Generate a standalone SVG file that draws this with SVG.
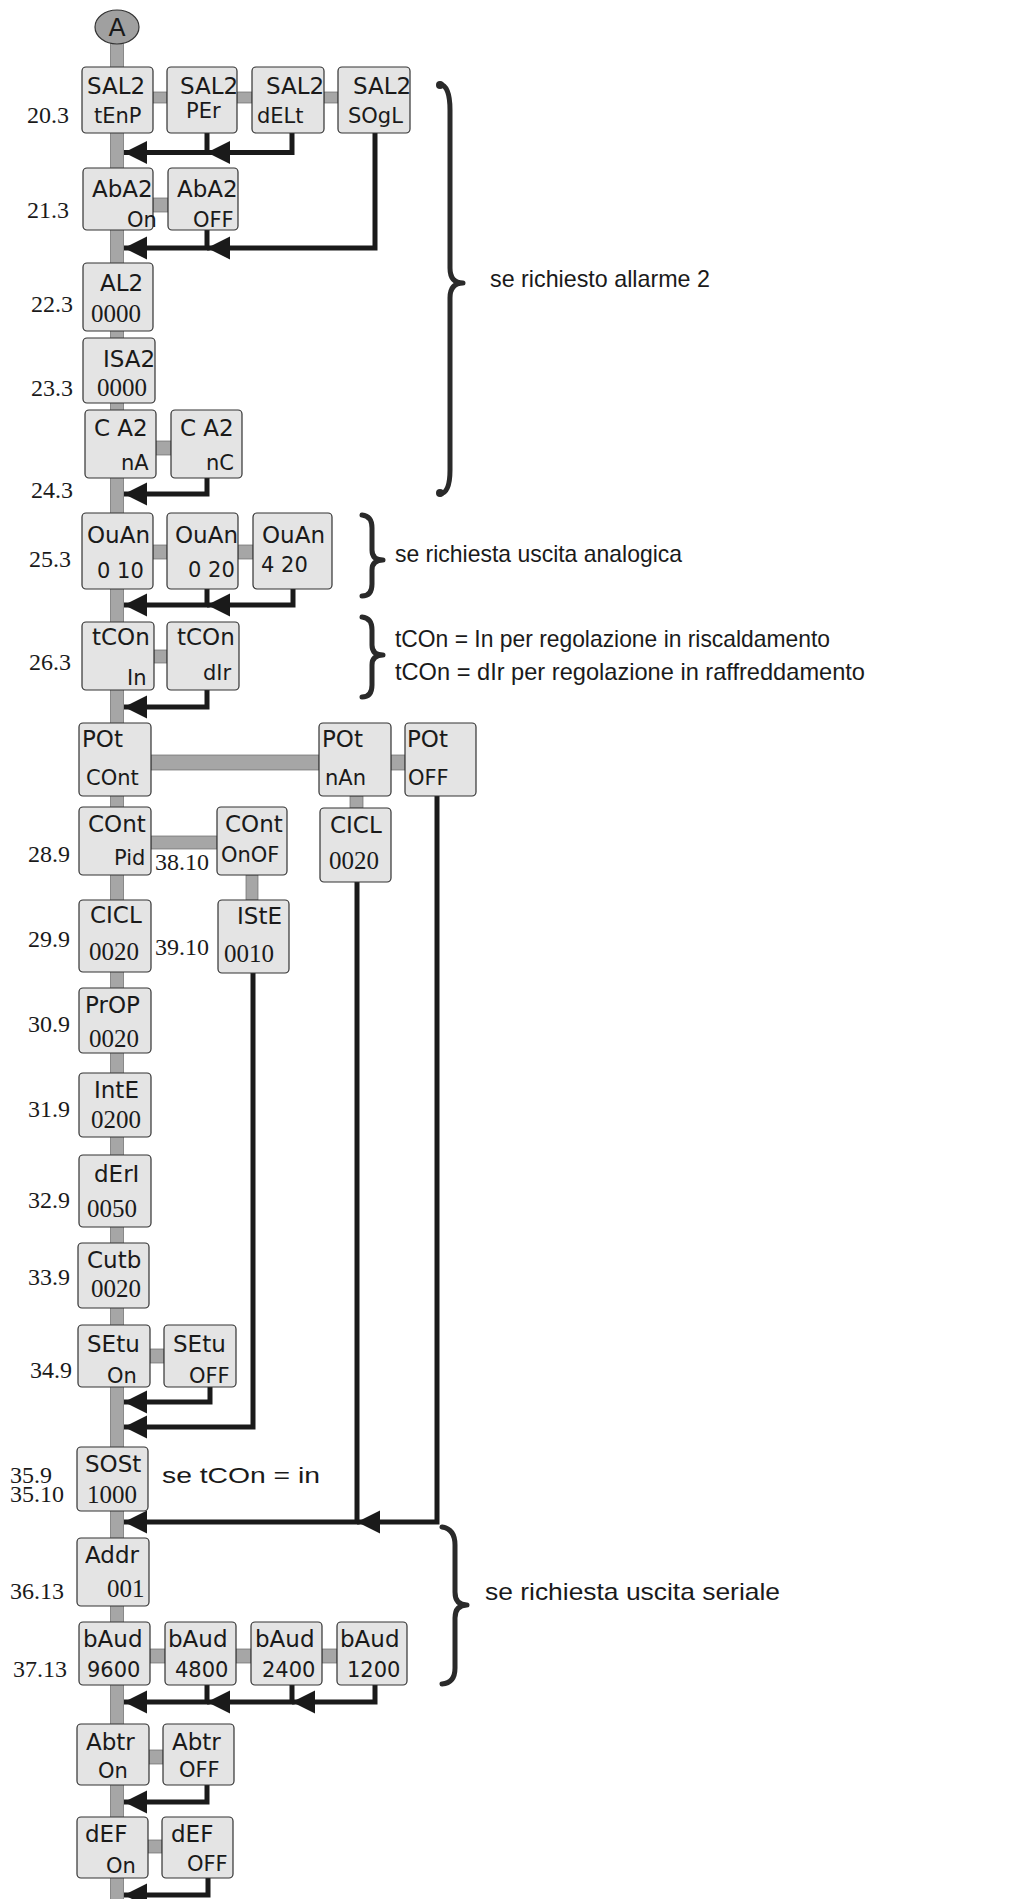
<svg xmlns="http://www.w3.org/2000/svg" width="1022" height="1899" viewBox="0 0 1022 1899">
<style>
.bx{fill:#e4e4e4;stroke:#333;stroke-width:1.2}
.t1{font-family:"DejaVu Sans",sans-serif;font-size:23px;fill:#1a1a1a}
.t2{font-family:"DejaVu Sans",sans-serif;font-size:21px;fill:#1a1a1a}
.v{font-family:"Liberation Serif",serif;font-size:25px;fill:#1a1a1a}
.lbl{font-family:"Liberation Serif",serif;font-size:24px;fill:#1a1a1a}
.note{font-family:"Liberation Sans",sans-serif;font-size:24px;fill:#1a1a1a}
.g{fill:#a6a6a6;stroke:#6a6a6a;stroke-width:0.7}
.ar{fill:none;stroke:#1a1a1a;stroke-width:5;stroke-linejoin:miter;marker-end:url(#ah)}
.br{fill:none;stroke:#2a2a2a;stroke-width:5;stroke-linecap:round;stroke-linejoin:round}
</style>
<defs>
<marker id="ah" markerUnits="userSpaceOnUse" markerWidth="24" markerHeight="24" refX="23" refY="11.5" orient="auto">
<polygon points="0,0 23,11.5 0,23" fill="#1a1a1a"/>
</marker>
</defs>
<rect width="1022" height="1899" fill="#fff"/>

<g id="connectors">
<rect class="g" x="110.5" y="40" width="13" height="1870"/>
<rect class="g" x="350" y="796" width="13" height="12"/>
<rect class="g" x="246" y="875" width="12" height="25"/>
<rect class="g" x="153" y="92" width="14" height="11"/>
<rect class="g" x="237" y="92" width="15" height="11"/>
<rect class="g" x="324" y="92" width="14" height="11"/>
<rect class="g" x="153" y="198" width="15" height="14"/>
<rect class="g" x="156" y="441" width="15" height="14"/>
<rect class="g" x="153" y="545" width="14" height="14"/>
<rect class="g" x="238" y="545" width="15" height="14"/>
<rect class="g" x="154" y="650" width="13" height="13"/>
<rect class="g" x="151" y="755" width="168" height="15"/>
<rect class="g" x="391" y="755" width="14" height="15"/>
<rect class="g" x="151" y="836" width="66" height="13"/>
<rect class="g" x="150" y="1349" width="14" height="14"/>
<rect class="g" x="150" y="1649" width="15" height="14"/>
<rect class="g" x="236" y="1649" width="15" height="14"/>
<rect class="g" x="322" y="1649" width="15" height="14"/>
<rect class="g" x="149" y="1750" width="14" height="14"/>
<rect class="g" x="148" y="1840" width="14" height="13"/>

<path class="ar" d="M292,133 V152.5 H207"/>
<path class="ar" d="M207,133 V152.5 H124"/>
<path class="ar" d="M375,133 V248 H207"/>
<path class="ar" d="M207,230 V248 H124"/>
<path class="ar" d="M207,478 V494 H124"/>
<path class="ar" d="M293,589 V605 H207"/>
<path class="ar" d="M207,589 V605 H124"/>
<path class="ar" d="M207,690 V707 H124"/>
<path class="ar" d="M210,1387 V1402 H124"/>
<path class="ar" d="M253,973 V1427 H124"/>
<path class="ar" d="M437,796 V1522 H357"/>
<path class="ar" d="M357,882 V1522 H124"/>
<path class="ar" d="M375,1685 V1702 H292"/>
<path class="ar" d="M292,1685 V1702 H207"/>
<path class="ar" d="M207,1685 V1702 H124"/>
<path class="ar" d="M207,1785 V1802 H124"/>
<path class="ar" d="M208,1878 V1895 H124"/>
</g>

<g id="nA">
<ellipse cx="117" cy="27" rx="22" ry="17" fill="#a0a0a0" stroke="#333" stroke-width="1.2"/>
<text x="117" y="36" text-anchor="middle" style="font-family:'DejaVu Sans',sans-serif;font-size:25px;fill:#1a1a1a">A</text>
</g>

<g id="n_sal2_tenp"><rect class="bx" x="82" y="67" width="71" height="66" rx="4"/><text class="t1" x="87" y="94">SAL2</text><text class="t2" x="94" y="123">tEnP</text></g>
<g id="n_sal2_per"><rect class="bx" x="167" y="67" width="70" height="66" rx="4"/><text class="t1" x="180" y="94">SAL2</text><text class="t2" x="186" y="118">PEr</text></g>
<g id="n_sal2_delt"><rect class="bx" x="252" y="67" width="72" height="66" rx="4"/><text class="t1" x="266" y="94">SAL2</text><text class="t2" x="257" y="123">dELt</text></g>
<g id="n_sal2_sogl"><rect class="bx" x="338" y="67" width="72" height="66" rx="4"/><text class="t1" x="353" y="94">SAL2</text><text class="t2" x="348" y="123">SOgL</text></g>

<g id="n_aba2_on"><rect class="bx" x="83" y="168" width="70" height="62" rx="4"/><text class="t1" x="92" y="197">AbA2</text><text class="t2" x="127" y="227">On</text></g>
<g id="n_aba2_off"><rect class="bx" x="168" y="168" width="70" height="62" rx="4"/><text class="t1" x="177" y="197">AbA2</text><text class="t2" x="193" y="227">OFF</text></g>

<g id="n_al2"><rect class="bx" x="83" y="263" width="70" height="68" rx="4"/><text class="t1" x="100" y="291">AL2</text><text class="v" x="91" y="322">0000</text></g>
<g id="n_isa2"><rect class="bx" x="83" y="338" width="72" height="65" rx="4"/><text class="t1" x="103" y="367">ISA2</text><text class="v" x="97" y="396">0000</text></g>

<g id="n_ca2_na"><rect class="bx" x="85" y="410" width="71" height="68" rx="4"/><text class="t1" x="94" y="436">C A2</text><text class="t2" x="121" y="470">nA</text></g>
<g id="n_ca2_nc"><rect class="bx" x="171" y="410" width="71" height="68" rx="4"/><text class="t1" x="180" y="436">C A2</text><text class="t2" x="206" y="470">nC</text></g>

<g id="n_ouan_010"><rect class="bx" x="82" y="513" width="71" height="76" rx="4"/><text class="t1" x="87" y="543">OuAn</text><text class="t2" x="97" y="578">0 10</text></g>
<g id="n_ouan_020"><rect class="bx" x="167" y="513" width="71" height="76" rx="4"/><text class="t1" x="175" y="543">OuAn</text><text class="t2" x="188" y="577">0 20</text></g>
<g id="n_ouan_420"><rect class="bx" x="253" y="513" width="79" height="76" rx="4"/><text class="t1" x="262" y="543">OuAn</text><text class="t2" x="261" y="572">4 20</text></g>

<g id="n_tcon_in"><rect class="bx" x="82" y="622" width="72" height="68" rx="4"/><text class="t1" x="92" y="645">tCOn</text><text class="t2" x="127" y="685">In</text></g>
<g id="n_tcon_dir"><rect class="bx" x="167" y="622" width="72" height="68" rx="4"/><text class="t1" x="177" y="645">tCOn</text><text class="t2" x="203" y="680">dIr</text></g>

<g id="n_pot_cont"><rect class="bx" x="79" y="723" width="72" height="73" rx="4"/><text class="t1" x="82" y="747">POt</text><text class="t2" x="86" y="785">COnt</text></g>
<g id="n_pot_nan"><rect class="bx" x="319" y="723" width="72" height="73" rx="4"/><text class="t1" x="322" y="747">POt</text><text class="t2" x="325" y="785">nAn</text></g>
<g id="n_pot_off"><rect class="bx" x="405" y="723" width="71" height="73" rx="4"/><text class="t1" x="407" y="747">POt</text><text class="t2" x="408" y="785">OFF</text></g>

<g id="n_cont_pid"><rect class="bx" x="79" y="807" width="72" height="68" rx="4"/><text class="t1" x="88" y="832">COnt</text><text class="t2" x="114" y="865">Pid</text></g>
<g id="n_cont_onof"><rect class="bx" x="217" y="807" width="70" height="68" rx="4"/><text class="t1" x="225" y="832">COnt</text><text class="t2" x="221" y="862">OnOF</text></g>
<g id="n_cicl_r"><rect class="bx" x="320" y="808" width="71" height="74" rx="4"/><text class="t1" x="330" y="833">CICL</text><text class="v" x="329" y="869">0020</text></g>

<g id="n_cicl_l"><rect class="bx" x="79" y="900" width="72" height="72" rx="4"/><text class="t1" x="90" y="923">CICL</text><text class="v" x="89" y="960">0020</text></g>
<g id="n_iste"><rect class="bx" x="218" y="900" width="71" height="73" rx="4"/><text class="t1" x="237" y="924">IStE</text><text class="v" x="224" y="962">0010</text></g>

<g id="n_prop"><rect class="bx" x="79" y="988" width="72" height="65" rx="4"/><text class="t1" x="85" y="1013">PrOP</text><text class="v" x="89" y="1047">0020</text></g>
<g id="n_inte"><rect class="bx" x="79" y="1073" width="72" height="64" rx="4"/><text class="t1" x="94" y="1098">IntE</text><text class="v" x="91" y="1128">0200</text></g>
<g id="n_deri"><rect class="bx" x="79" y="1155" width="72" height="72" rx="4"/><text class="t1" x="94" y="1182">dErI</text><text class="v" x="87" y="1217">0050</text></g>
<g id="n_cutb"><rect class="bx" x="78" y="1243" width="71" height="65" rx="4"/><text class="t1" x="87" y="1268">Cutb</text><text class="v" x="91" y="1297">0020</text></g>

<g id="n_setu_on"><rect class="bx" x="78" y="1325" width="72" height="62" rx="4"/><text class="t1" x="87" y="1352">SEtu</text><text class="t2" x="107" y="1383">On</text></g>
<g id="n_setu_off"><rect class="bx" x="164" y="1325" width="72" height="62" rx="4"/><text class="t1" x="173" y="1352">SEtu</text><text class="t2" x="189" y="1383">OFF</text></g>

<g id="n_sost"><rect class="bx" x="77" y="1447" width="71" height="64" rx="4"/><text class="t1" x="85" y="1472">SOSt</text><text class="v" x="87" y="1503">1000</text></g>
<g id="n_addr"><rect class="bx" x="77" y="1538" width="72" height="68" rx="4"/><text class="t1" x="85" y="1563">Addr</text><text class="v" x="107" y="1597">001</text></g>

<g id="n_baud_9600"><rect class="bx" x="79" y="1622" width="71" height="63" rx="4"/><text class="t1" x="83" y="1647">bAud</text><text class="t2" x="87" y="1677">9600</text></g>
<g id="n_baud_4800"><rect class="bx" x="165" y="1622" width="71" height="63" rx="4"/><text class="t1" x="168" y="1647">bAud</text><text class="t2" x="175" y="1677">4800</text></g>
<g id="n_baud_2400"><rect class="bx" x="251" y="1622" width="71" height="63" rx="4"/><text class="t1" x="255" y="1647">bAud</text><text class="t2" x="262" y="1677">2400</text></g>
<g id="n_baud_1200"><rect class="bx" x="337" y="1622" width="70" height="63" rx="4"/><text class="t1" x="340" y="1647">bAud</text><text class="t2" x="347" y="1677">1200</text></g>

<g id="n_abtr_on"><rect class="bx" x="77" y="1724" width="72" height="61" rx="4"/><text class="t1" x="86" y="1750">Abtr</text><text class="t2" x="98" y="1778">On</text></g>
<g id="n_abtr_off"><rect class="bx" x="163" y="1724" width="71" height="61" rx="4"/><text class="t1" x="172" y="1750">Abtr</text><text class="t2" x="179" y="1777">OFF</text></g>

<g id="n_def_on"><rect class="bx" x="77" y="1817" width="71" height="61" rx="4"/><text class="t1" x="85" y="1842">dEF</text><text class="t2" x="106" y="1873">On</text></g>
<g id="n_def_off"><rect class="bx" x="162" y="1817" width="71" height="61" rx="4"/><text class="t1" x="171" y="1842">dEF</text><text class="t2" x="187" y="1871">OFF</text></g>

<g id="labels">
<text class="lbl" x="27" y="123">20.3</text>
<text class="lbl" x="27" y="218">21.3</text>
<text class="lbl" x="31" y="312">22.3</text>
<text class="lbl" x="31" y="396">23.3</text>
<text class="lbl" x="31" y="498">24.3</text>
<text class="lbl" x="29" y="567">25.3</text>
<text class="lbl" x="29" y="670">26.3</text>
<text class="lbl" x="28" y="862">28.9</text>
<text class="lbl" x="155" y="870">38.10</text>
<text class="lbl" x="28" y="947">29.9</text>
<text class="lbl" x="155" y="955">39.10</text>
<text class="lbl" x="28" y="1032">30.9</text>
<text class="lbl" x="28" y="1117">31.9</text>
<text class="lbl" x="28" y="1208">32.9</text>
<text class="lbl" x="28" y="1285">33.9</text>
<text class="lbl" x="30" y="1378">34.9</text>
<text class="lbl" x="10" y="1483">35.9</text>
<text class="lbl" x="10" y="1502">35.10</text>
<text class="lbl" x="10" y="1599">36.13</text>
<text class="lbl" x="13" y="1677">37.13</text>
</g>

<g id="notes">
<path class="br" d="M440,84 Q450,86 450,110 L450,268 Q450,283 463,283 Q450,283 450,298 L450,470 Q450,493 440,494"/>
<circle cx="440" cy="85" r="4" fill="#2a2a2a"/><circle cx="440" cy="493" r="4" fill="#2a2a2a"/>
<text class="note" x="490" y="287" textLength="220" lengthAdjust="spacingAndGlyphs">se richiesto allarme 2</text>
<path class="br" d="M362,515 Q372,516 372,528 L372,550 Q372,560 383,560 Q372,560 372,570 L372,584 Q372,596 362,596"/>
<text class="note" x="395" y="562" textLength="287" lengthAdjust="spacingAndGlyphs">se richiesta uscita analogica</text>
<path class="br" d="M362,617 Q372,618 372,630 L372,645 Q372,655 383,655 Q372,655 372,665 L372,685 Q372,697 362,697"/>
<text class="note" x="395" y="647" textLength="435" lengthAdjust="spacingAndGlyphs">tCOn = In per regolazione in riscaldamento</text>
<text class="note" x="395" y="680" textLength="470" lengthAdjust="spacingAndGlyphs">tCOn = dIr per regolazione in raffreddamento</text>
<text class="note" x="162" y="1483" textLength="158" lengthAdjust="spacingAndGlyphs" style="font-size:22px">se tCOn = in</text>
<path class="br" d="M442,1527 Q455,1529 455,1545 L455,1592 Q455,1605 467,1605 Q455,1605 455,1618 L455,1668 Q455,1683 442,1684"/>
<text class="note" x="485" y="1600" textLength="295" lengthAdjust="spacingAndGlyphs">se richiesta uscita seriale</text>
</g>
</svg>
